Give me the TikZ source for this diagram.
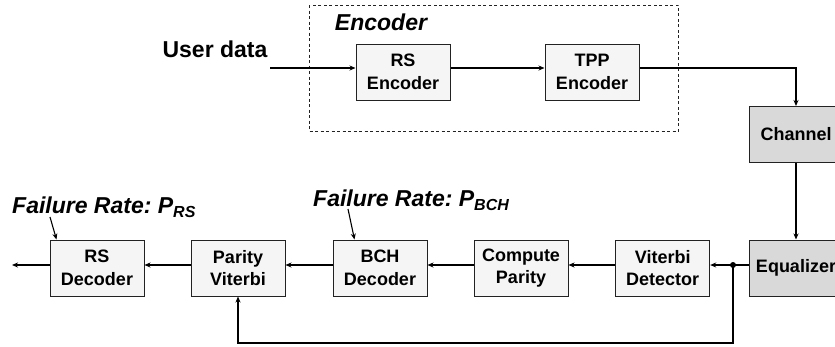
\documentclass[tikz,border=0pt]{standalone}
\usepackage{fontspec}
\setmainfont{Liberation Sans}
\usetikzlibrary{arrows.meta}
\definecolor{lightbox}{HTML}{F5F5F5}
\definecolor{darkbox}{HTML}{D9D9D9}
\definecolor{edge}{HTML}{222222}
\frenchspacing
\tikzset{
  blk/.style={draw=edge, line width=1pt, fill=lightbox, minimum width=94pt, minimum height=56pt,
    align=center, inner sep=0pt, font=\fontsize{18}{22.5}\selectfont\bfseries},
  dblk/.style={blk, fill=darkbox},
  arr/.style={draw=black, line width=1.1pt, -{Stealth[length=6pt,width=5pt]}},
  ln/.style={draw=black, line width=1.1pt},
  biglabel/.style={font=\fontsize{23}{26}\selectfont\bfseries, inner sep=0pt},
  fr/.style={font=\fontsize{23}{26}\selectfont\bfseries\itshape, inner sep=0pt, anchor=base west}
}
\newcommand{\mysub}[1]{\raisebox{-4pt}{\fontsize{16}{17}\selectfont #1}}
\begin{document}
\begin{tikzpicture}[x=1pt,y=-1pt]
\useasboundingbox (0,0) rectangle (835,346);
\clip (0,0) rectangle (835,346);
% encoder group
\draw[edge, line width=0.8pt, dash pattern=on 3pt off 2.5pt] (309,5) rectangle (678.5,131);
\node[biglabel, font=\fontsize{23}{26}\selectfont\bfseries\itshape] (enclab) at (381,22) {Encoder};
\node[biglabel] (ud) at (215,49) {User data};
\coordinate (udend) at (270,68);
% top blocks
\node[blk] (rsenc) at (403,72) {RS\\Encoder};
\node[blk] (tpp) at (592,72) {TPP\\Encoder};
\node[dblk] (chan) at (796,134.5) {Channel};
% bottom row
\node[dblk] (eq) at (796,268) {Equalizer};
\node[blk] (vit) at (662.7,268) {Viterbi\\Detector};
\node[blk] (cp) at (521,268) {Compute\\Parity};
\node[blk] (bch) at (380,268) {BCH\\Decoder};
\node[blk] (pv) at (238,268) {Parity\\Viterbi};
\node[blk] (rsdec) at (97,268) {RS\\Decoder};
% connectors top
\draw[arr] (udend) -- ([yshift=4pt]rsenc.west);
\draw[arr] ([yshift=4pt]rsenc.east) -- ([yshift=4pt]tpp.west);
\draw[arr] ([yshift=4pt]tpp.east) -| (chan.north);
\draw[arr] (chan.south) -- (eq.north);
% bottom chain
\coordinate (dot) at (733,265);
\coordinate (out) at (12,265);
\draw[ln] ([yshift=3pt]eq.west) -- (dot);
\fill (dot) circle (3pt);
\draw[arr] (dot) -- ([yshift=3pt]vit.east);
\draw[arr] ([yshift=3pt]vit.west) -- ([yshift=3pt]cp.east);
\draw[arr] ([yshift=3pt]cp.west) -- ([yshift=3pt]bch.east);
\draw[arr] ([yshift=3pt]bch.west) -- ([yshift=3pt]pv.east);
\draw[arr] ([yshift=3pt]pv.west) -- ([yshift=3pt]rsdec.east);
\draw[arr] ([yshift=3pt]rsdec.west) -- (out);
% feedback
\coordinate (fb) at (733,343);
\draw[arr] (dot) -- (fb) -| (pv.south);
% failure rate labels
\node[fr] (frrs) at (12,213) {Failure Rate: P\mysub{RS}};
\node[fr] (frbch) at (313,206) {Failure Rate: P\mysub{BCH}};
\coordinate (t1) at (50,217);
\coordinate (t2) at (348,209);
\draw[arr] (t1) -- ([xshift=7pt]rsdec.north west);
\draw[arr] (t2) -- ([xshift=22pt]bch.north west);
\end{tikzpicture}
\end{document}
